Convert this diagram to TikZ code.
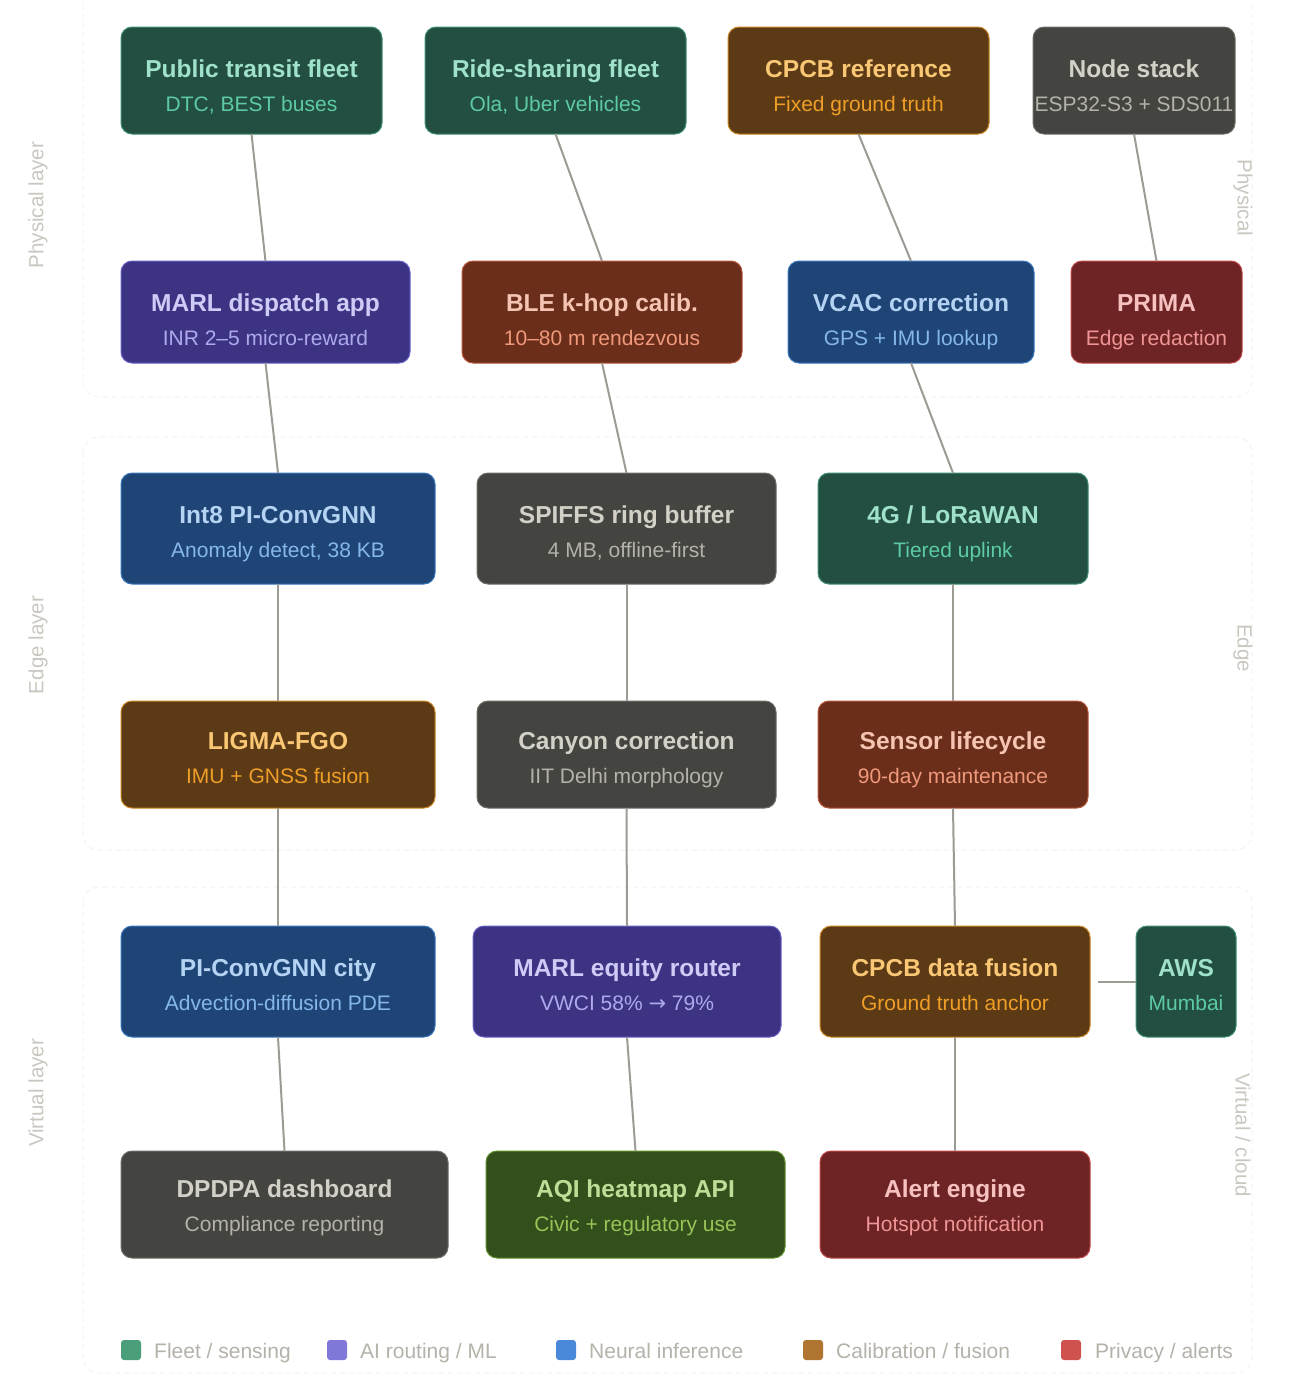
\documentclass[tikz,border=0pt]{standalone}
\usepackage{fontspec}
\setmainfont{Liberation Sans}
\newfontfamily\arrowfont{DejaVu Sans}
\usetikzlibrary{calc}

\definecolor{tealF}{HTML}{234F42}\definecolor{tealB}{HTML}{3F8F72}\definecolor{tealT}{HTML}{9FE1CB}\definecolor{tealS}{HTML}{5DCAA5}
\definecolor{purpF}{HTML}{3C3483}\definecolor{purpB}{HTML}{6A62C8}\definecolor{purpT}{HTML}{CECBF6}\definecolor{purpS}{HTML}{AFA9EC}
\definecolor{coraF}{HTML}{6A2E1B}\definecolor{coraB}{HTML}{B8573A}\definecolor{coraT}{HTML}{F5C4B3}\definecolor{coraS}{HTML}{F0997B}
\definecolor{blueF}{HTML}{1F4577}\definecolor{blueB}{HTML}{3A78C0}\definecolor{blueT}{HTML}{B5D4F4}\definecolor{blueS}{HTML}{85B7EB}
\definecolor{ambeF}{HTML}{5B3A15}\definecolor{ambeB}{HTML}{C98420}\definecolor{ambeT}{HTML}{FAC775}\definecolor{ambeS}{HTML}{EF9F27}
\definecolor{grayF}{HTML}{444441}\definecolor{grayB}{HTML}{6E6D68}\definecolor{grayT}{HTML}{D3D1C7}\definecolor{grayS}{HTML}{B4B2A9}
\definecolor{redxF}{HTML}{6E2424}\definecolor{redxB}{HTML}{C04848}\definecolor{redxT}{HTML}{F7C1C1}\definecolor{redxS}{HTML}{F09595}
\definecolor{grenF}{HTML}{334F1B}\definecolor{grenB}{HTML}{5E8F2A}\definecolor{grenT}{HTML}{C0DD97}\definecolor{grenS}{HTML}{97C459}
\definecolor{connC}{HTML}{9C9B94}
\definecolor{sideC}{HTML}{C9C7BF}
\definecolor{legT}{HTML}{B4B2A9}
\definecolor{layerC}{HTML}{F3F3F0}
\definecolor{lgTeal}{HTML}{4A9E7A}\definecolor{lgPurp}{HTML}{8078D8}\definecolor{lgBlue}{HTML}{4A88DA}\definecolor{lgAmbe}{HTML}{B07530}\definecolor{lgRed}{HTML}{D0524E}

\tikzset{
  boxnode/.style={rounded corners=11pt, line width=1pt, inner sep=0pt, outer sep=0pt},
  ttl/.style={font=\fontsize{24.5}{28}\selectfont\bfseries, inner sep=0pt, anchor=base},
  subt/.style={font=\fontsize{21}{25}\selectfont, inner sep=0pt, anchor=base},
  conn/.style={draw=connC, line width=2pt},
  layerbox/.style={draw=layerC, line width=1pt, dash pattern=on 5pt off 4pt, rounded corners=16pt},
  sidelab/.style={font=\fontsize{20.5}{24}\selectfont, text=sideC, inner sep=0pt},
  legsq/.style={minimum width=20pt, minimum height=20pt, inner sep=0pt, rounded corners=3pt},
  legtxt/.style={font=\fontsize{21}{25}\selectfont, text=legT, inner sep=0pt, anchor=base west},
}

% #1 name, #2 colour prefix, #3 x1, #4 x2, #5 y1, #6 y2, #7 title baseline, #8 title, #9 sub
\newcommand{\mkbox}[9]{%
  \node[boxnode, fill=#2F, draw=#2B, minimum width={(#4)-(#3)}, minimum height={(#6)-(#5)}] (#1) at ({((#3)+(#4))/2},{((#5)+(#6))/2}) {};
  \node[ttl, text=#2T] (#1-t) at ({((#3)+(#4))/2},#7) {#8};
  \node[subt, text=#2S] (#1-s) at ({((#3)+(#4))/2},{(#7)+34}) {#9};
}

\begin{document}
\begin{tikzpicture}[x=1pt,y=-1pt]
\useasboundingbox (0,0) rectangle (1296,1398);
\fill[white] (0,0) rectangle (1296,1398);

% faint layer frames
\draw[layerbox] (83,-20) rectangle (1252,397);
\draw[layerbox] (83,437) rectangle (1252,850);
\draw[layerbox] (83,887) rectangle (1252,1373);

% side labels
\node[sidelab, rotate=90] (lphys) at (38,205) {Physical layer};
\node[sidelab, rotate=90] (ledge) at (38,645) {Edge layer};
\node[sidelab, rotate=90] (lvirt) at (38,1093) {Virtual layer};
\node[sidelab, rotate=-90] (rphys) at (1243,198) {Physical};
\node[sidelab, rotate=-90] (redge) at (1243,648) {Edge};
\node[sidelab, rotate=-90] (rvirt) at (1243,1135) {Virtual / cloud};

% row 1
\mkbox{ptf}{teal}{121}{382}{27}{134}{77.7}{Public transit fleet}{DTC, BEST buses}
\mkbox{rsf}{teal}{425}{686}{27}{134}{77.7}{Ride-sharing fleet}{Ola, Uber vehicles}
\mkbox{cpr}{ambe}{728}{989}{27}{134}{77.7}{CPCB reference}{Fixed ground truth}
\mkbox{nst}{gray}{1033}{1235}{27}{134}{77.7}{Node stack}{ESP32-S3 + SDS011}
% row 2
\mkbox{mda}{purp}{121}{410}{261}{363}{311.7}{MARL dispatch app}{INR 2–5 micro-reward}
\mkbox{ble}{cora}{462}{742}{261}{363}{311.7}{BLE k-hop calib.}{10–80 m rendezvous}
\mkbox{vca}{blue}{788}{1034}{261}{363}{311.7}{VCAC correction}{GPS + IMU lookup}
\mkbox{pri}{redx}{1071}{1242}{261}{363}{311.7}{PRIMA}{Edge redaction}
% row 3
\mkbox{int}{blue}{121}{435}{473}{584}{523.7}{Int8 PI-ConvGNN}{Anomaly detect, 38 KB}
\mkbox{spi}{gray}{477}{776}{473}{584}{523.7}{SPIFFS ring buffer}{4 MB, offline-first}
\mkbox{lor}{teal}{818}{1088}{473}{584}{523.7}{4G / LoRaWAN}{Tiered uplink}
% row 4
\mkbox{lig}{ambe}{121}{435}{701}{808}{749.7}{LIGMA-FGO}{IMU + GNSS fusion}
\mkbox{can}{gray}{477}{776}{701}{808}{749.7}{Canyon correction}{IIT Delhi morphology}
\mkbox{sen}{cora}{818}{1088}{701}{808}{749.7}{Sensor lifecycle}{90-day maintenance}
% row 5
\mkbox{pic}{blue}{121}{435}{926}{1037}{976.7}{PI-ConvGNN city}{Advection-diffusion PDE}
\mkbox{mer}{purp}{473}{781}{926}{1037}{976.7}{MARL equity router}{VWCI 58\% {\arrowfont →} 79\%}
\mkbox{fus}{ambe}{820}{1090}{926}{1037}{976.7}{CPCB data fusion}{Ground truth anchor}
\mkbox{aws}{teal}{1136}{1236}{926}{1037}{976.7}{AWS}{Mumbai}
% row 6
\mkbox{dpd}{gray}{121}{448}{1151}{1258}{1197.7}{DPDPA dashboard}{Compliance reporting}
\mkbox{aqi}{gren}{486}{785}{1151}{1258}{1197.7}{AQI heatmap API}{Civic + regulatory use}
\mkbox{ale}{redx}{820}{1090}{1151}{1258}{1197.7}{Alert engine}{Hotspot notification}

% connectors
\draw[conn] (ptf.south) -- (mda.north);
\draw[conn] (mda.south) -- (int.north);
\draw[conn] (rsf.south) -- (ble.north);
\draw[conn] (ble.south) -- (spi.north);
\draw[conn] (cpr.south) -- (vca.north);
\draw[conn] (vca.south) -- (lor.north);
\draw[conn] (nst.south) -- (pri.north);
\draw[conn] (int.south) -- (lig.north);
\draw[conn] (spi.south) -- (can.north);
\draw[conn] (lor.south) -- (sen.north);
\draw[conn] (lig.south) -- (pic.north);
\draw[conn] (can.south) -- (mer.north);
\draw[conn] (sen.south) -- (fus.north);
\draw[conn] (pic.south) -- (dpd.north);
\draw[conn] (mer.south) -- (aqi.north);
\draw[conn] (fus.south) -- (ale.north);
\draw[conn] ([xshift=8pt]fus.east) -- (aws.west);

% legend
\node[legsq, fill=lgTeal] (lg1) at (131,1350) {};
\node[legtxt] (lg1t) at (154,1358) {Fleet / sensing};
\node[legsq, fill=lgPurp] (lg2) at (337,1350) {};
\node[legtxt] (lg2t) at (360,1358) {AI routing / ML};
\node[legsq, fill=lgBlue] (lg3) at (566,1350) {};
\node[legtxt] (lg3t) at (589,1358) {Neural inference};
\node[legsq, fill=lgAmbe] (lg4) at (813,1350) {};
\node[legtxt] (lg4t) at (836,1358) {Calibration / fusion};
\node[legsq, fill=lgRed] (lg5) at (1071,1350) {};
\node[legtxt] (lg5t) at (1095,1358) {Privacy / alerts};
\end{tikzpicture}
\end{document}
